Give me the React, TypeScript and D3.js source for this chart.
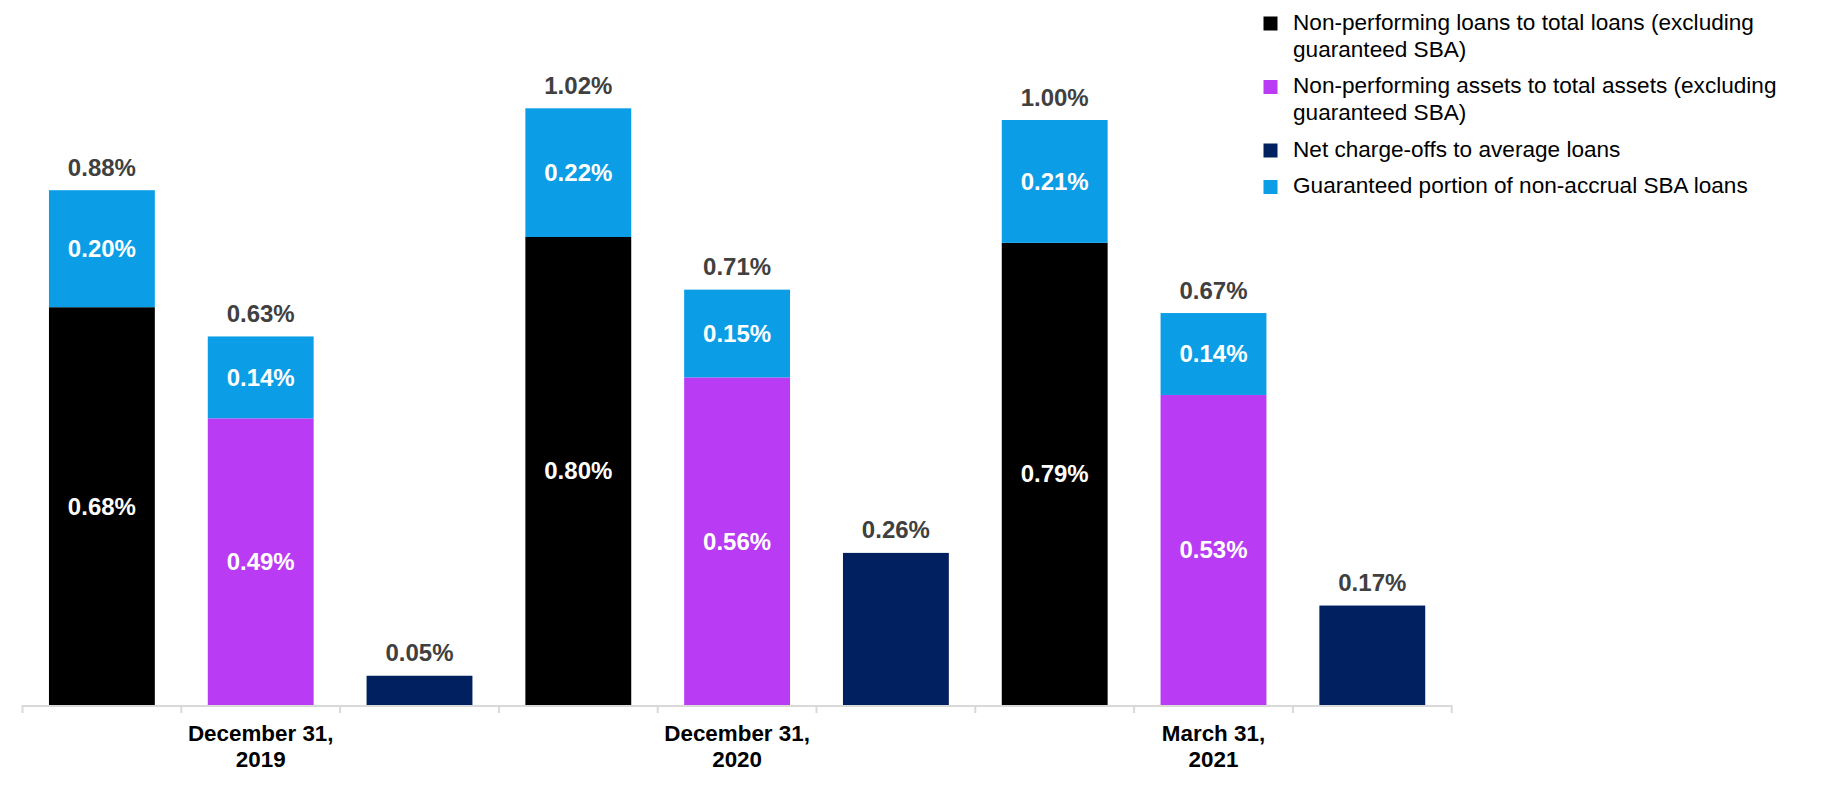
import React from "react";
import * as d3 from "d3";

const categories = ["December 31, 2019", "December 31, 2020", "March 31, 2021"];
const nplLoans = [0.68, 0.8, 0.79];
const nplSba = [0.2, 0.22, 0.21];
const npaAssets = [0.49, 0.56, 0.53];
const npaSba = [0.14, 0.15, 0.14];
const netChargeOffs = [0.05, 0.26, 0.17];

const legendItems = [
  { lines: ["Non-performing loans to total loans (excluding", "guaranteed SBA)"], color: "#000000" },
  { lines: ["Non-performing assets to total assets (excluding", "guaranteed SBA)"], color: "#b93bf3" },
  { lines: ["Net charge-offs to average loans"], color: "#012060" },
  { lines: ["Guaranteed portion of non-accrual SBA loans"], color: "#0b9ee6" },
];

const W = 1842;
const H = 785;
const FONT = "'Liberation Sans', Arial, sans-serif";
const C_BLACK = "#000000";
const C_PURPLE = "#b93bf3";
const C_NAVY = "#012060";
const C_BLUE = "#0b9ee6";
const LABEL_GRAY = "#404040";

type Seg = { v0: number; v1: number; color: string; inner: boolean };
type BarDef = { slot: number; segs: Seg[]; total: number };

export default function App() {
  const slots = d3.range(categories.length * 3);
  const x = d3
    .scaleBand<number>()
    .domain(slots)
    .range([22.5, 1451.7])
    .paddingInner(1 / 3)
    .paddingOuter(1 / 6);
  const axisY = 705;
  const y = d3.scaleLinear().domain([0, 1.2]).range([axisY, axisY - 1.2 * 585]);

  const bars: BarDef[] = [];
  categories.forEach((_, i) => {
    bars.push({
      slot: i * 3,
      segs: [
        { v0: 0, v1: nplLoans[i], color: C_BLACK, inner: true },
        { v0: nplLoans[i], v1: nplLoans[i] + nplSba[i], color: C_BLUE, inner: true },
      ],
      total: nplLoans[i] + nplSba[i],
    });
    bars.push({
      slot: i * 3 + 1,
      segs: [
        { v0: 0, v1: npaAssets[i], color: C_PURPLE, inner: true },
        { v0: npaAssets[i], v1: npaAssets[i] + npaSba[i], color: C_BLUE, inner: true },
      ],
      total: npaAssets[i] + npaSba[i],
    });
    bars.push({
      slot: i * 3 + 2,
      segs: [{ v0: 0, v1: netChargeOffs[i], color: C_NAVY, inner: false }],
      total: netChargeOffs[i],
    });
  });

  const fmt = (v: number) => v.toFixed(2) + "%";
  const step = x.step();
  const x0 = 22.5;
  const tickXs = d3.range(slots.length + 1).map((k) => x0 + k * step);

  return (
    <svg
      width={W}
      height={H}
      style={{ position: "absolute", left: 0, top: 0, display: "block", background: "#fff" }}
      fontFamily={FONT}
    >
      {bars.map((b) => {
        const bx = x(b.slot)!;
        const bw = x.bandwidth();
        return (
          <g key={b.slot}>
            {b.segs.map((s, k) => (
              <rect
                key={k}
                x={bx}
                y={y(s.v1)}
                width={bw}
                height={y(s.v0) - y(s.v1)}
                fill={s.color}
              />
            ))}
            {b.segs
              .filter((s) => s.inner)
              .map((s, k) => (
                <text
                  key={"t" + k}
                  x={bx + bw / 2}
                  y={(y(s.v0) + y(s.v1)) / 2}
                  dy="0.35em"
                  textAnchor="middle"
                  fill="#ffffff"
                  fontWeight="bold"
                  fontSize={24}
                >
                  {fmt(s.v1 - s.v0)}
                </text>
              ))}
            <text
              x={bx + bw / 2}
              y={y(b.total) - 14.5}
              textAnchor="middle"
              fill={LABEL_GRAY}
              fontWeight="bold"
              fontSize={24}
            >
              {fmt(b.total)}
            </text>
          </g>
        );
      })}
      <line x1={x0} x2={tickXs[tickXs.length - 1]} y1={axisY + 1} y2={axisY + 1} stroke="#d9d9d9" strokeWidth={2} />
      {tickXs.map((tx, k) => (
        <line key={k} x1={tx} x2={tx} y1={axisY} y2={axisY + 8} stroke="#d9d9d9" strokeWidth={2} />
      ))}
      {categories.map((c, i) => {
        const cx = x(i * 3 + 1)! + x.bandwidth() / 2;
        const idx = c.lastIndexOf(" ");
        const l1 = c.slice(0, idx);
        const l2 = c.slice(idx + 1);
        return (
          <text key={c} textAnchor="middle" fontWeight="bold" fontSize={22.4} fill="#000">
            <tspan x={cx} y={740.7}>
              {l1}
            </tspan>
            <tspan x={cx} y={767.3}>
              {l2}
            </tspan>
          </text>
        );
      })}
      {(() => {
        let base = 29.5;
        return legendItems.map((item, i) => {
          const b = base;
          base += (item.lines.length - 1) * 27 + 36.5;
          return (
            <g key={i}>
              <rect x={1263.5} y={b - 13} width={14} height={14} fill={item.color} />
              <text fontSize={22.6} fill="#000">
                {item.lines.map((ln, j) => (
                  <tspan key={j} x={1293} y={b + j * 27}>
                    {ln}
                  </tspan>
                ))}
              </text>
            </g>
          );
        });
      })()}
    </svg>
  );
}
